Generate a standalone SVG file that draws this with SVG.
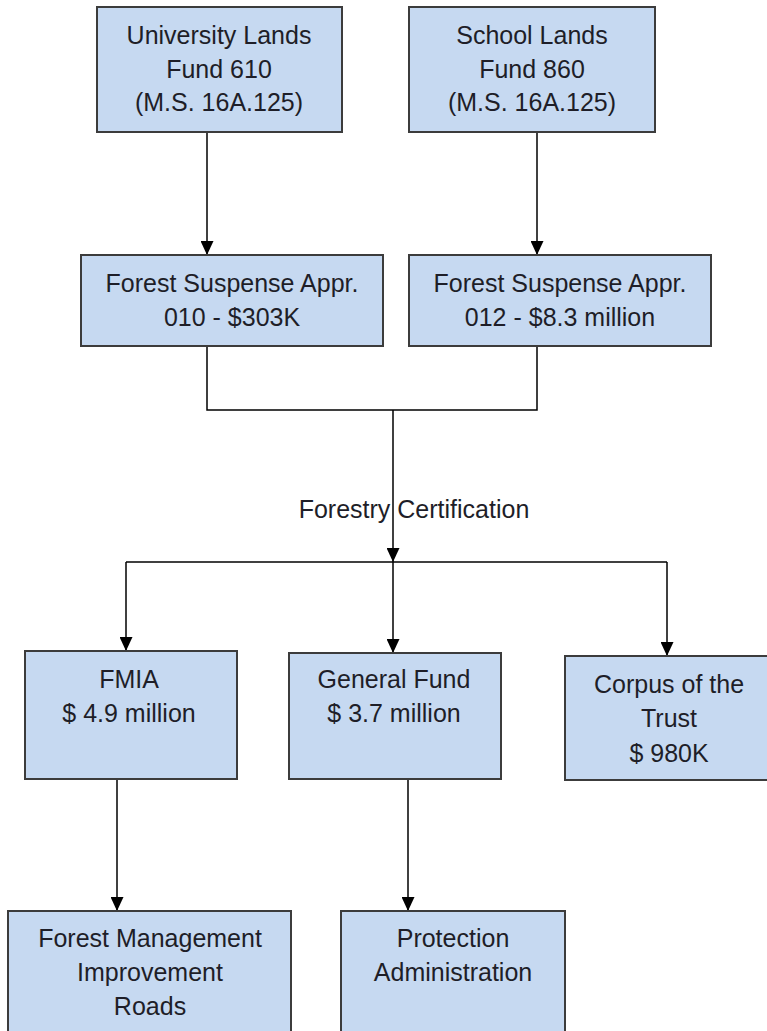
<svg xmlns="http://www.w3.org/2000/svg" width="767" height="1031" viewBox="0 0 767 1031">
<defs>
<marker id="arr" markerUnits="userSpaceOnUse" markerWidth="14" markerHeight="13" refX="14" refY="6.5" orient="auto">
<path d="M0,0 L14,6.5 L0,13 z" fill="#000"/>
</marker>
<style>
.box{fill:#c6d9f1;stroke:#3c3c3c;stroke-width:2}
.t{font-family:"Liberation Sans",Arial,sans-serif;font-size:25px;fill:#1e1e28;text-anchor:middle}
.c{fill:none;stroke:#000;stroke-width:1.5}
</style>
</defs>
<rect width="767" height="1031" fill="#fff"/>
<text class="t" x="414" y="518">Forestry Certification</text>
<g id="connectors">
<line class="c" x1="207" y1="132" x2="207" y2="255" marker-end="url(#arr)"/>
<line class="c" x1="537" y1="132" x2="537" y2="255" marker-end="url(#arr)"/>
<polyline class="c" points="207,346 207,410 537,410 537,346"/>
<line class="c" x1="393" y1="410" x2="393" y2="562" marker-end="url(#arr)"/>
<line class="c" x1="126" y1="562" x2="667" y2="562"/>
<line class="c" x1="126" y1="562" x2="126" y2="651" marker-end="url(#arr)"/>
<line class="c" x1="393" y1="562" x2="393" y2="653" marker-end="url(#arr)"/>
<line class="c" x1="667" y1="562" x2="667" y2="656" marker-end="url(#arr)"/>
<line class="c" x1="117" y1="779" x2="117" y2="911" marker-end="url(#arr)"/>
<line class="c" x1="408" y1="779" x2="408" y2="911" marker-end="url(#arr)"/>
</g>
<g id="university">
<rect class="box" x="97" y="7" width="245" height="125"/>
<text class="t" x="219" y="44">University Lands</text>
<text class="t" x="219" y="78">Fund 610</text>
<text class="t" x="219" y="111">(M.S. 16A.125)</text>
</g>
<g id="school">
<rect class="box" x="409" y="7" width="246" height="125"/>
<text class="t" x="532" y="44">School Lands</text>
<text class="t" x="532" y="78">Fund 860</text>
<text class="t" x="532" y="111">(M.S. 16A.125)</text>
</g>
<g id="suspense010">
<rect class="box" x="81" y="255" width="302" height="91"/>
<text class="t" x="232" y="292">Forest Suspense Appr.</text>
<text class="t" x="232" y="326">010 - $303K</text>
</g>
<g id="suspense012">
<rect class="box" x="409" y="255" width="302" height="91"/>
<text class="t" x="560" y="292">Forest Suspense Appr.</text>
<text class="t" x="560" y="326">012 - $8.3 million</text>
</g>
<g id="fmia">
<rect class="box" x="25" y="651" width="212" height="128"/>
<text class="t" x="129" y="688">FMIA</text>
<text class="t" x="129" y="722">$ 4.9 million</text>
</g>
<g id="general">
<rect class="box" x="289" y="653" width="212" height="126"/>
<text class="t" x="394" y="688">General Fund</text>
<text class="t" x="394" y="722">$ 3.7 million</text>
</g>
<g id="corpus">
<rect class="box" x="565" y="656" width="210" height="124"/>
<text class="t" x="669" y="693">Corpus of the</text>
<text class="t" x="669" y="727">Trust</text>
<text class="t" x="669" y="762">$ 980K</text>
</g>
<g id="forestmgmt">
<rect class="box" x="8" y="911" width="283" height="130"/>
<text class="t" x="150" y="947">Forest Management</text>
<text class="t" x="150" y="981">Improvement</text>
<text class="t" x="150" y="1015">Roads</text>
</g>
<g id="protection">
<rect class="box" x="341" y="911" width="224" height="130"/>
<text class="t" x="453" y="947">Protection</text>
<text class="t" x="453" y="981">Administration</text>
</g>
</svg>
